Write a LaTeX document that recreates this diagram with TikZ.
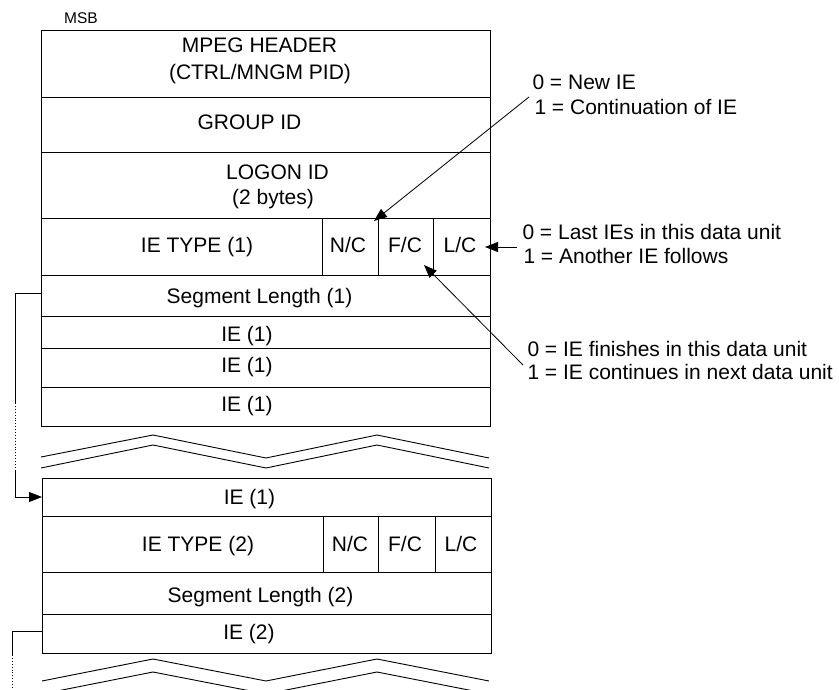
\documentclass[tikz,border=0pt]{standalone}
\usepackage{fontspec}
\setmainfont{Liberation Sans}
\usetikzlibrary{arrows.meta}
\begin{document}
\begin{tikzpicture}[x=1pt,y=-1pt,line width=1pt,
  cell/.style={anchor=base,inner sep=0pt,font=\fontsize{21}{25}\selectfont},
  note/.style={anchor=base west,inner sep=0pt,font=\fontsize{21}{25}\selectfont},
  arr/.style={-{Triangle[length=13pt,width=10pt]}},
  zig/.style={line width=0.9pt},
  link/.style={line width=0.9pt}]
\useasboundingbox (0,0) rectangle (839,690);
% ---------- first block ----------
\draw (41,31) rectangle (490,426);
\foreach \y in {98,153,219,275,316,348,387} \draw (41,\y) -- (490,\y);
\foreach \x in {322,378,433} \draw (\x,219) -- (\x,275);
\node[inner sep=0pt,anchor=base,font=\fontsize{15.5}{18}\selectfont] (msb) at (81,23.3) {MSB};
\node[cell] (mpeg1) at (259.5,52.7) {MPEG HEADER};
\node[cell] (mpeg2) at (260,80) {(CTRL/MNGM PID)};
\node[cell] (group) at (249.5,130) {GROUP ID};
\node[cell] (logon1) at (277.5,180) {LOGON ID};
\node[cell] (logon2) at (273,205) {(2 bytes)};
\node[cell] (iet1) at (197,252) {IE TYPE (1)};
\node[cell] (nc1) at (348,252) {N/C};
\node[cell] (fc1) at (405,252) {F/C};
\node[cell] (lc1) at (460,252) {L/C};
\node[cell] (seg1) at (259.5,303) {Segment Length (1)};
\node[cell] (ie1a) at (247,341) {IE (1)};
\node[cell] (ie1b) at (247,372) {IE (1)};
\node[cell] (ie1c) at (247,411) {IE (1)};
% break 1
\draw[zig] (41,457) -- (153,435) -- (266,458) -- (377,435) -- (489,458);
\draw[zig] (41,468) -- (153,445) -- (266,468) -- (377,445) -- (489,468);
% ---------- second block ----------
\draw (42,478) rectangle (491,653);
\foreach \y in {516,572,614} \draw (42,\y) -- (491,\y);
\foreach \x in {323,378,435} \draw (\x,516) -- (\x,572);
\node[cell] (ie1d) at (249.5,504) {IE (1)};
\node[cell] (iet2) at (198,551) {IE TYPE (2)};
\node[cell] (nc2) at (350,551) {N/C};
\node[cell] (fc2) at (405,551) {F/C};
\node[cell] (lc2) at (461,551) {L/C};
\node[cell] (seg2) at (260.5,602) {Segment Length (2)};
\node[cell] (ie2) at (249,639) {IE (2)};
% break 2
\draw[zig] (42,681) -- (153,659) -- (266,681) -- (377,659) -- (489,681);
\draw[zig] (42,694) -- (153,672) -- (266,694) -- (377,672) -- (489,694);
% ---------- notes ----------
\node[note] (n0) at (532,90) {0 = New IE};
\node[note] (n1) at (534,115) {1 = Continuation of IE};
\node[note] (l0) at (522,240) {0 = Last IEs in this data unit};
\node[note] (l1) at (523,264) {1 = Another IE follows};
\node[note] (f0) at (527,356) {0 = IE finishes in this data unit};
\node[note] (f1) at (527,379) {1 = IE continues in next data unit};
\coordinate (nS) at (529,97);   \coordinate (nT) at (374,221);
\coordinate (lS) at (517,247);  \coordinate (lT) at (485,247);
\coordinate (fS) at (523,365);  \coordinate (fT) at (424,265);
\draw[arr,line width=0.8pt] (nS) -- (nT);
\draw[arr,line width=0.8pt] (lS) -- (lT);
\draw[arr,line width=0.8pt] (fS) -- (fT);
% ---------- left connectors ----------
\coordinate (c1a) at (41,293); \coordinate (c1b) at (15,293);
\coordinate (c1c) at (15,403); \coordinate (c1d) at (15,467);
\coordinate (c1e) at (15,470); \coordinate (c1f) at (15,497);
\coordinate (c1g) at (42,497);
\draw[link] (c1a) -- (c1b) -- (c1c);
\draw[link,dotted] (c1c) -- (c1d);
\draw[link,arr] (c1e) -- (c1f) -- (c1g);
\coordinate (c2a) at (42,631); \coordinate (c2b) at (12,631);
\coordinate (c2c) at (12,655); \coordinate (c2d) at (12,690);
\draw[link] (c2a) -- (c2b) -- (c2c);
\draw[link,dotted] (c2c) -- (c2d);
\end{tikzpicture}
\end{document}
